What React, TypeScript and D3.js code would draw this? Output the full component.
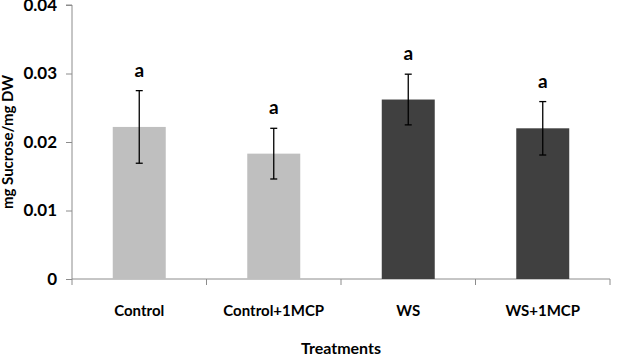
import React, { useEffect, useRef } from "react";
import * as d3 from "d3";

// sucrose content per treatment (mg sucrose / mg DW) with error bar half-widths
const treatments = ["Control", "Control+1MCP", "WS", "WS+1MCP"];
const means = [0.0222, 0.0183, 0.0262, 0.022];
const errors = [0.0053, 0.0037, 0.0037, 0.0039];
const letters = ["a", "a", "a", "a"];
const barColors = ["#bfbfbf", "#bfbfbf", "#404040", "#404040"];
const yTicks = [0, 0.01, 0.02, 0.03, 0.04];

const width = 618;
const height = 356;
const margin = { top: 5, right: 8, bottom: 77, left: 72 };
const font = "Lato, 'Open Sans', sans-serif";

const App = () => {
    const svgRef = useRef<SVGSVGElement>(null);

    useEffect(() => {
        const svg = d3.select(svgRef.current);
        svg.selectAll("*").remove();

        const innerWidth = width - margin.left - margin.right;
        const innerHeight = height - margin.top - margin.bottom;

        const x = d3
            .scaleBand()
            .domain(treatments)
            .range([0, innerWidth])
            .paddingInner(0.606)
            .paddingOuter(0.303);
        const y = d3.scaleLinear().domain([0, 0.04]).range([innerHeight, 0]);

        const g = svg
            .append("g")
            .attr("transform", `translate(${margin.left},${margin.top})`);

        // y axis
        const yAxis = g
            .append("g")
            .call(
                d3
                    .axisLeft(y)
                    .tickValues(yTicks)
                    .tickSize(6)
                    .tickFormat((d) => (d === 0 ? "0" : d3.format(".2f")(d as number)))
            );
        yAxis.select(".domain").attr("stroke", "#8c8c8c").attr("d", `M-6,0H0V${innerHeight}`);
        yAxis.selectAll(".tick line").attr("stroke", "#8c8c8c");
        yAxis
            .selectAll(".tick text")
            .attr("x", -15)
            .attr("font-family", font)
            .attr("font-weight", "bold")
            .attr("font-size", 17)
            .attr("fill", "#000");

        // x axis with ticks at category boundaries
        const xAxisG = g.append("g").attr("transform", `translate(0,${innerHeight})`);
        xAxisG
            .append("line")
            .attr("x1", 0)
            .attr("x2", innerWidth)
            .attr("stroke", "#8c8c8c");
        const step = x.step();
        xAxisG
            .selectAll(".bound")
            .data(d3.range(treatments.length + 1))
            .join("line")
            .attr("x1", (i) => i * step)
            .attr("x2", (i) => i * step)
            .attr("y1", 0)
            .attr("y2", 6)
            .attr("stroke", "#8c8c8c");
        xAxisG
            .selectAll(".cat")
            .data(treatments)
            .join("text")
            .attr("x", (d) => x(d)! + x.bandwidth() / 2)
            .attr("y", 37)
            .attr("text-anchor", "middle")
            .attr("font-family", font)
            .attr("font-weight", "bold")
            .attr("font-size", 15)
            .text((d) => d);

        // bars
        g.selectAll(".bar")
            .data(treatments)
            .join("rect")
            .attr("x", (d) => x(d)!)
            .attr("y", (_, i) => y(means[i]))
            .attr("width", x.bandwidth())
            .attr("height", (_, i) => innerHeight - y(means[i]))
            .attr("fill", (_, i) => barColors[i]);

        // error bars
        const cap = 3.5;
        const eb = g
            .selectAll(".err")
            .data(treatments)
            .join("g")
            .attr("transform", (d) => `translate(${x(d)! + x.bandwidth() / 2},0)`);
        eb.append("line")
            .attr("y1", (_, i) => y(means[i] + errors[i]))
            .attr("y2", (_, i) => y(means[i] - errors[i]))
            .attr("stroke", "#000")
            .attr("stroke-width", 1.3);
        eb.append("line")
            .attr("x1", -cap)
            .attr("x2", cap)
            .attr("y1", (_, i) => y(means[i] + errors[i]))
            .attr("y2", (_, i) => y(means[i] + errors[i]))
            .attr("stroke", "#000")
            .attr("stroke-width", 1.3);
        eb.append("line")
            .attr("x1", -cap)
            .attr("x2", cap)
            .attr("y1", (_, i) => y(means[i] - errors[i]))
            .attr("y2", (_, i) => y(means[i] - errors[i]))
            .attr("stroke", "#000")
            .attr("stroke-width", 1.3);

        // significance letters
        eb.append("text")
            .attr("y", (_, i) => y(means[i] + errors[i]) - 14)
            .attr("text-anchor", "middle")
            .attr("font-family", font)
            .attr("font-weight", "bold")
            .attr("font-size", 19)
            .text((_, i) => letters[i]);

        // axis titles
        g.append("text")
            .attr("x", innerWidth / 2)
            .attr("y", innerHeight + 75)
            .attr("text-anchor", "middle")
            .attr("font-family", font)
            .attr("font-weight", "bold")
            .attr("font-size", 16)
            .text("Treatments");
        g.append("text")
            .attr("transform", `translate(${-margin.left + 13},${innerHeight / 2}) rotate(-90)`)
            .attr("text-anchor", "middle")
            .attr("font-family", font)
            .attr("font-weight", "bold")
            .attr("font-size", 15)
            .text("mg Sucrose/mg DW");
    }, []);

    return (
        <svg
            ref={svgRef}
            width={width}
            height={height}
            style={{ position: "absolute", left: 0, top: 0, background: "#fff" }}
        />
    );
};

export default App;
